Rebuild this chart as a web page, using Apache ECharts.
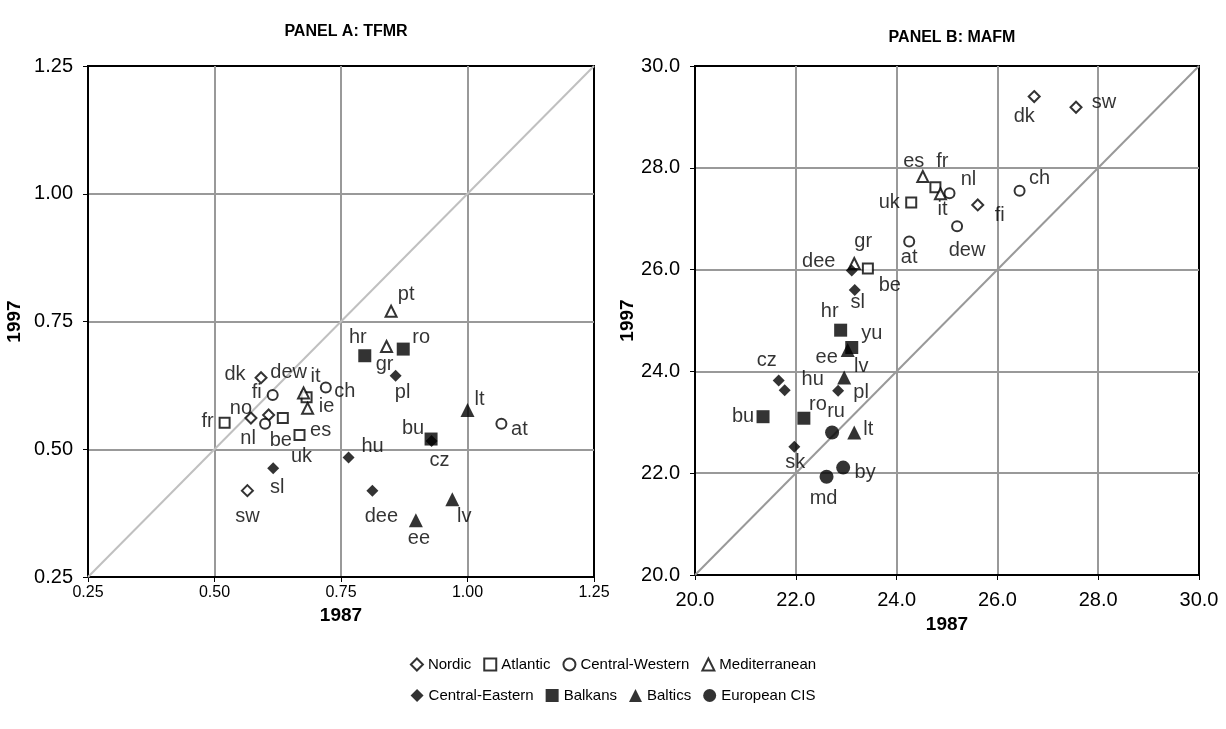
<!DOCTYPE html>
<html>
<head>
<meta charset="utf-8">
<script src="https://cdn.jsdelivr.net/npm/echarts@6/dist/echarts.min.js"></script>
<style>
  html, body { margin: 0; padding: 0; background: #fff; }
  #chart { width: 1226px; height: 729px; }
</style>
</head>
<body>
<div id="chart"></div>
<script>
const groups = ['Nordic', 'Atlantic', 'Central-Western', 'Mediterranean',
  'Central-Eastern', 'Balkans', 'Baltics', 'European CIS']

// Panel A: TFMR, 1987 vs 1997
const tfmrCountry = ['dk', 'fi', 'no', 'sw', 'fr', 'be', 'uk', 'ie', 'dew', 'ch', 'nl', 'at',
  'it', 'es', 'pt', 'gr', 'sl', 'hu', 'dee', 'pl', 'cz', 'hr', 'ro', 'bu', 'lt', 'lv', 'ee']
const tfmrGroup = [0, 0, 0, 0, 1, 1, 1, 1, 2, 2, 2, 2,
  3, 3, 3, 3, 4, 4, 4, 4, 4, 5, 5, 5, 6, 6, 6]
const tfmr1987 = [0.592, 0.607, 0.572, 0.565, 0.520, 0.635, 0.668, 0.682, 0.615, 0.720, 0.600, 1.067,
  0.676, 0.684, 0.849, 0.840, 0.616, 0.765, 0.812, 0.858, 0.929, 0.797, 0.873, 0.928, 1.000, 0.970, 0.898]
const tfmr1997 = [0.640, 0.567, 0.561, 0.419, 0.552, 0.561, 0.528, 0.602, 0.606, 0.621, 0.550, 0.550,
  0.610, 0.580, 0.770, 0.701, 0.463, 0.484, 0.419, 0.644, 0.516, 0.683, 0.696, 0.520, 0.577, 0.402, 0.361]
const tfmrTicks = [0.25, 0.50, 0.75, 1.00, 1.25]

// Panel B: MAFM, 1987 vs 1997
const mafmCountry = ['dk', 'sw', 'fi', 'fr', 'uk', 'be', 'nl', 'ch', 'dew', 'at', 'es', 'it', 'gr',
  'dee', 'sl', 'cz', 'hu', 'pl', 'sk', 'hr', 'yu', 'bu', 'ro', 'ee', 'lv', 'lt', 'ru', 'by', 'md']
const mafmGroup = [0, 0, 0, 1, 1, 1, 2, 2, 2, 2, 3, 3, 3,
  4, 4, 4, 4, 4, 4, 5, 5, 5, 5, 6, 6, 6, 7, 7, 7]
const mafm1987 = [26.73, 27.56, 25.61, 24.77, 24.29, 23.43, 25.05, 26.44, 25.20, 24.25, 24.52, 24.87, 23.16,
  23.11, 23.17, 21.66, 21.78, 22.84, 21.97, 22.89, 23.11, 21.35, 22.16, 23.03, 22.96, 23.16, 22.72, 22.94, 22.61]
const mafm1997 = [29.40, 29.19, 27.27, 27.62, 27.32, 26.02, 27.50, 27.55, 26.85, 26.55, 27.83, 27.49, 26.12,
  25.98, 25.60, 23.82, 23.63, 23.62, 22.52, 24.81, 24.47, 23.11, 23.08, 24.42, 23.88, 22.80, 22.80, 22.11, 21.93]
const mafmTicks = [20, 22, 24, 26, 28, 30]

// marker look per group
const groupSymbol = ['diamond', 'rect', 'circle', 'triangle', 'diamond', 'rect', 'triangle', 'circle']
const groupFilled = [false, false, false, false, true, true, true, true]
const groupSize = [11, 10, 10, 11, 12, 13, 14, 14]

// where each country label sits relative to its marker
const labelShiftA = {
  dk: [-26, -3], dew: [16, -23], fi: [-12, -23], it: [12, -17], ch: [19, 4], ie: [20, 9],
  es: [13, 22], fr: [-17, -1], no: [-10, -10], nl: [-17, 15], be: [-2, 22], uk: [2, 22],
  sl: [4, 19], sw: [0, 26], hu: [24, -11], dee: [9, 26], ee: [3, 18], lv: [12, 17],
  bu: [-18, -11], cz: [8, 19], lt: [12, -10], at: [18, 6], pt: [15, -17], hr: [-7, -18],
  gr: [-2, 18], ro: [18, -12], pl: [7, 17]
}
const labelShiftB = {
  es: [-9, -15], fr: [7, -26], it: [2, 16], nl: [19, -14], uk: [-22, 0], fi: [22, 11],
  ch: [20, -12], dew: [10, 24], at: [0, 16], dk: [-10, 20], sw: [28, -5], gr: [9, -22],
  dee: [-33, -9], be: [22, 17], sl: [3, 13], hr: [-11, -19], yu: [20, -14], ee: [-21, 7],
  lv: [17, -11], cz: [-12, -20], hu: [28, -11], pl: [23, 2], bu: [-20, 0], ro: [14, -14],
  ru: [4, -21], lt: [14, -3], sk: [1, 16], by: [22, 5], md: [-3, 22]
}

const font = 'Liberation Sans, Arial, sans-serif'

const makeAxes = (ticks, digits, idx, xFont, xMargin, xNameGap, yNameGap) => {
  const min = ticks[0]
  const max = ticks[ticks.length - 1]
  const step = ticks[1] - ticks[0]
  const common = {
    type: 'value',
    gridIndex: idx,
    min: min,
    max: max,
    interval: step,
    nameLocation: 'middle',
    nameTextStyle: { fontFamily: font, fontWeight: 'bold', fontSize: 19, color: '#000' },
    axisLine: { show: true, lineStyle: { color: '#000', width: 2 } },
    axisTick: { show: true, length: 5, lineStyle: { color: '#000', width: 1 } },
    splitLine: { show: true, showMinLine: false, showMaxLine: false, lineStyle: { color: '#999', width: 2 } }
  }
  return {
    x: {
      ...common,
      name: '1987',
      nameGap: xNameGap,
      axisLabel: { fontFamily: font, fontSize: xFont, color: '#000', margin: xMargin, formatter: (v) => v.toFixed(digits) }
    },
    y: {
      ...common,
      name: '1997',
      nameGap: yNameGap,
      axisLabel: { fontFamily: font, fontSize: 20, color: '#000', margin: 15, formatter: (v) => v.toFixed(digits) }
    }
  }
}

const axesA = makeAxes(tfmrTicks, 2, 0, 16, 8, 21, 64)
const axesB = makeAxes(mafmTicks, 1, 1, 20, 15, 38, 46)

const buildSeries = (country, group, xs, ys, shift, idx) => {
  return groups.map((g, gi) => {
    const data = []
    country.forEach((c, i) => {
      if (group[i] !== gi) return
      data.push({ name: c, value: [xs[i], ys[i]], label: { offset: shift[c] || [0, 0] } })
    })
    return {
      name: g,
      type: 'scatter',
      xAxisIndex: idx,
      yAxisIndex: idx,
      symbol: groupSymbol[gi],
      symbolSize: groupSize[gi],
      z: 3,
      itemStyle: groupFilled[gi]
        ? { color: '#000' }
        : { color: '#fff', borderColor: '#000', borderWidth: 2 },
      label: {
        show: true,
        position: 'inside',
        formatter: '{b}',
        fontFamily: font,
        fontSize: 20,
        color: '#000'
      },
      emphasis: { disabled: true },
      data: data
    }
  })
}

const diagonal = (ticks, idx, color) => ({
  type: 'line',
  xAxisIndex: idx,
  yAxisIndex: idx,
  symbol: 'none',
  silent: true,
  z: 1,
  lineStyle: { color: color, width: 2 },
  data: [[ticks[0], ticks[0]], [ticks[ticks.length - 1], ticks[ticks.length - 1]]]
})

const legendText = { fontFamily: font, fontSize: 15, color: '#000' }

const options = {
  animation: false,
  backgroundColor: '#fff',
  title: [
    { text: 'PANEL A: TFMR', left: 341, top: 19, textAlign: 'center',
      textStyle: { fontFamily: font, fontWeight: 'bold', fontSize: 16, color: '#000' } },
    { text: 'PANEL B: MAFM', left: 947, top: 25, textAlign: 'center',
      textStyle: { fontFamily: font, fontWeight: 'bold', fontSize: 16, color: '#000' } }
  ],
  grid: [
    { left: 88, top: 66, width: 506, height: 511, show: true, borderColor: '#000', borderWidth: 2 },
    { left: 695, top: 66, width: 504, height: 509, show: true, borderColor: '#000', borderWidth: 2 }
  ],
  xAxis: [axesA.x, axesB.x],
  yAxis: [axesA.y, axesB.y],
  legend: [
    {
      data: groups.slice(0, 4),
      top: 652,
      left: 'center',
      itemWidth: 12,
      itemHeight: 12,
      itemGap: 12,
      textStyle: legendText
    },
    {
      data: groups.slice(4),
      top: 683,
      left: 'center',
      itemWidth: 13,
      itemHeight: 13,
      itemGap: 12,
      textStyle: legendText
    }
  ],
  series: [
    diagonal(tfmrTicks, 0, '#c0c0c0'),
    diagonal(mafmTicks, 1, '#999'),
    ...buildSeries(tfmrCountry, tfmrGroup, tfmr1987, tfmr1997, labelShiftA, 0),
    ...buildSeries(mafmCountry, mafmGroup, mafm1987, mafm1997, labelShiftB, 1)
  ]
}

const chart = echarts.init(document.getElementById('chart'))
chart.setOption(options)
</script>
</body>
</html>
